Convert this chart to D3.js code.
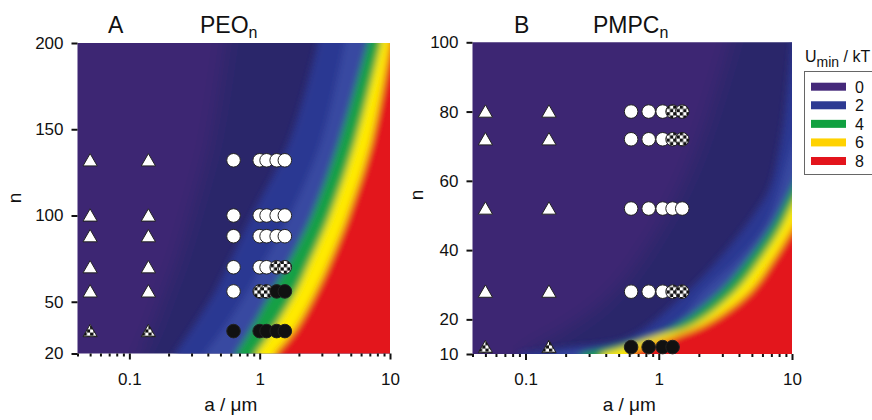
<!DOCTYPE html>
<html>
<head>
<meta charset="utf-8">
<script src="https://cdn.jsdelivr.net/npm/d3@7"></script>
<style>
  body { margin: 0; background: #fff; }
  text { font-family: "Liberation Sans", Arial, sans-serif; fill: #111; }
</style>
</head>
<body>
<div id="chart"></div>
<script>
// axes
var aTicks = [0.1, 1, 10];
var nTicksA = [20, 50, 100, 150, 200];
var nTicksB = [10, 20, 40, 60, 80, 100];

// legend
var legendLevels = [0, 2, 4, 6, 8];
var legendColors = ["#45297a", "#2d3a92", "#10a040", "#ffd200", "#e3141c"];

// U_min / kT contour levels and the colour that starts at each one
var bandLevels = [1, 2, 3, 4, 6, 8];
var bandColors = ["#2a286b", "#2c3992", "#3848a1", "#18a044", "#ffea00", "#e3141c"];
var baseColor = "#3e2873";

// panel A (PEO): boundary a-values of each level, at these n
var nBandA = [20, 33, 56, 71, 100, 144, 200];
var aBandA = [
  [0.121, 0.145, 0.188, 0.224, 0.292, 0.416, 0.542],
  [0.224, 0.293, 0.455, 0.57, 0.873, 1.71, 2.80],
  [0.38, 0.513, 0.81, 1.04, 1.71, 3.0, 4.51],
  [0.658, 0.842, 1.243, 1.62, 2.52, 4.13, 6.78],
  [0.937, 1.243, 1.90, 2.35, 3.46, 5.48, 8.53],
  [1.31, 1.83, 2.70, 3.34, 4.75, 7.26, 10.1]
];

// panel B (PMPC): boundary n and a values of each level
var nBandB = [
  [10, 20, 30, 52, 72, 100],
  [10, 12, 14.5, 26, 38, 50, 58, 70, 80, 100],
  [10, 11.5, 14, 20, 28, 38, 48, 70, 90],
  [10, 12, 17, 28, 38, 47, 58, 68],
  [10, 12, 15, 18, 28, 38, 46, 53, 62],
  [10, 12, 15, 19, 28, 38, 46, 55]
];
var aBandB = [
  [0.091, 0.256, 0.511, 1.21, 2.04, 3.42],
  [0.09, 0.22, 0.58, 1.44, 2.9, 5.1, 6.8, 8.1, 8.9, 10],
  [0.15, 0.36, 0.86, 1.44, 2.15, 4.07, 6.5, 10, 14.9],
  [0.26, 0.43, 1.17, 2.88, 4.84, 7.1, 10, 13.2],
  [0.37, 0.557, 0.936, 1.71, 3.73, 5.96, 8.13, 10, 13.2],
  [0.6, 0.788, 1.32, 2.34, 4.84, 7.45, 10, 13.65]
];

// experimental points: w = white, c = checkered, b = black
var aTriA = [0.05, 0.14];
var aCircA = [0.63, 1.0, 1.13, 1.35, 1.56];
var nRowsA = [132, 100, 88, 70, 56, 33];
var triTypesA = ["w", "w", "w", "w", "w", "c"];
var circTypesA = [
  ["w", "w", "w", "w", "w"],
  ["w", "w", "w", "w", "w"],
  ["w", "w", "w", "w", "w"],
  ["w", "w", "w", "c", "c"],
  ["w", "c", "c", "b", "b"],
  ["b", "b", "b", "b", "b"]
];

var aTriB = [0.05, 0.15];
var aCircB = [0.62, 0.84, 1.07, 1.27, 1.5];
var nRowsB = [80, 72, 52, 28, 12];
var triTypesB = ["w", "w", "w", "w", "c"];
var circTypesB = [
  ["w", "w", "w", "c", "c"],
  ["w", "w", "w", "c", "c"],
  ["w", "w", "w", "w", "w"],
  ["w", "w", "w", "c", "c"],
  ["b", "b", "b", "b", null]
];

var svg = d3.select("#chart").append("svg")
    .attr("width", 872)
    .attr("height", 420);

var defs = svg.append("defs");
var pat = defs.append("pattern")
    .attr("id", "checker")
    .attr("patternUnits", "userSpaceOnUse")
    .attr("width", 6.6).attr("height", 6.6);
pat.append("rect").attr("width", 6.6).attr("height", 6.6).attr("fill", "#fff");
pat.append("rect").attr("width", 3.3).attr("height", 3.3).attr("fill", "#111");
pat.append("rect").attr("x", 3.3).attr("y", 3.3).attr("width", 3.3).attr("height", 3.3).attr("fill", "#111");

function addBlur(id, sd) {
  defs.append("filter")
      .attr("id", id)
      .attr("filterUnits", "userSpaceOnUse")
      .attr("x", -60).attr("y", -60).attr("width", 1000).attr("height", 540)
    .append("feGaussianBlur")
      .attr("stdDeviation", sd);
}
addBlur("blurWide", 10);
addBlur("blur", 3.5);

var fillFor = { w: "#fff", c: "url(#checker)", b: "#111" };

function drawPanel(p) {
  var x = d3.scaleLog().domain([0.04, 10]).range([p.left, p.right]);
  var y = d3.scaleLinear().domain(p.nDomain).range([p.bottom, p.top]);

  // colour field
  defs.append("clipPath").attr("id", "clip" + p.id)
    .append("rect")
      .attr("x", p.left).attr("y", p.top)
      .attr("width", p.right - p.left).attr("height", p.bottom - p.top);

  var clip = svg.append("g").attr("clip-path", "url(#clip" + p.id + ")");
  var soft = clip.append("g").attr("filter", "url(#blurWide)");
  var sharp = clip.append("g").attr("filter", "url(#blur)");

  soft.append("rect")
      .attr("x", p.left - 40).attr("y", p.top - 40)
      .attr("width", p.right - p.left + 80).attr("height", p.bottom - p.top + 80)
      .attr("fill", baseColor);

  var line = d3.line().curve(d3.curveCatmullRom);
  bandLevels.forEach(function(level, i) {
    var ns = p.bandN(i), as = p.bandA[i];
    var pts = ns.map(function(n, j) { return [x(as[j]), y(n)]; });
    var first = pts[0], last = pts[pts.length - 1];
    var d = "M" + first[0] + "," + (p.bottom + 40) + "L" + line(pts).slice(1);
    if (ns[ns.length - 1] >= p.nDomain[1]) {
      d += "L" + last[0] + "," + (p.top - 40) + "L" + (p.right + 40) + "," + (p.top - 40);
    } else {
      d += "L" + (p.right + 40) + "," + last[1];
    }
    d += "L" + (p.right + 40) + "," + (p.bottom + 40) + "Z";
    (level < 2 ? soft : sharp).append("path").attr("d", d).attr("fill", bandColors[i]);
  });

  // axes
  var yAxis = svg.append("g")
      .attr("transform", "translate(" + p.left + ",0)")
      .call(d3.axisLeft(y).tickValues(p.nTicks).tickSize(6).tickPadding(8));
  var xAxis = svg.append("g")
      .attr("transform", "translate(0," + p.bottom + ")")
      .call(d3.axisBottom(x).tickValues(aTicks).tickFormat(d3.format("")).tickSize(6).tickPadding(13));
  var minor = x.ticks().filter(function(v) { return aTicks.indexOf(v) < 0; });
  var xMinor = svg.append("g")
      .attr("transform", "translate(0," + p.bottom + ")")
      .call(d3.axisBottom(x).tickValues(minor).tickFormat("").tickSize(3));
  [yAxis, xAxis, xMinor].forEach(function(g) {
    g.select(".domain").remove();
    g.selectAll(".tick line").attr("stroke", "#111").attr("stroke-width", 2);
    g.selectAll(".tick text").style("font-size", "17px").attr("fill", "#111");
  });

  svg.append("text")
      .attr("x", (p.left + p.right) / 2 - 3)
      .attr("y", 411)
      .attr("text-anchor", "middle")
      .style("font-size", "19px")
      .text("a / \u03bcm");
  svg.append("text")
      .attr("transform", "translate(" + p.nLabelX + "," + p.nLabelY + ") rotate(-90)")
      .attr("text-anchor", "middle")
      .style("font-size", "19px")
      .text("n");

  svg.append("text")
      .attr("x", p.letterX).attr("y", 33)
      .style("font-size", "23px")
      .text(p.letter);
  var t = svg.append("text")
      .attr("x", p.titleX).attr("y", 33)
      .style("font-size", "23px")
      .text(p.title);
  t.append("tspan").attr("dy", 5).style("font-size", "16px").text("n");

  // points
  var pts = svg.append("g");
  p.nRows.forEach(function(n, r) {
    p.aTri.forEach(function(a) {
      pts.append("path")
          .attr("d", d3.symbol(d3.symbolTriangle, 88)())
          .attr("transform", "translate(" + x(a) + "," + (y(n) + 1.5) + ")")
          .attr("fill", fillFor[p.triTypes[r]])
          .attr("stroke", "#222")
          .attr("stroke-width", 1);
    });
    p.aCirc.forEach(function(a, k) {
      var type = p.circTypes[r][k];
      if (!type) return;
      pts.append("circle")
          .attr("cx", x(a)).attr("cy", y(n))
          .attr("r", 6.8)
          .attr("fill", fillFor[type])
          .attr("stroke", "#222")
          .attr("stroke-width", 1);
    });
  });
}

drawPanel({
  id: "A", left: 77.5, right: 390, top: 43, bottom: 353.5,
  nDomain: [20, 200], nTicks: nTicksA,
  bandN: function() { return nBandA; }, bandA: aBandA,
  aTri: aTriA, aCirc: aCircA, nRows: nRowsA, triTypes: triTypesA, circTypes: circTypesA,
  letter: "A", letterX: 108, title: "PEO", titleX: 200, nLabelX: 21, nLabelY: 198
});

drawPanel({
  id: "B", left: 472.5, right: 792, top: 42.3, bottom: 354,
  nDomain: [10, 100], nTicks: nTicksB,
  bandN: function(i) { return nBandB[i]; }, bandA: aBandB,
  aTri: aTriB, aCirc: aCircB, nRows: nRowsB, triTypes: triTypesB, circTypes: circTypesB,
  letter: "B", letterX: 514, title: "PMPC", titleX: 593, nLabelX: 423, nLabelY: 195
});

// legend
var lt = svg.append("text").attr("x", 805).attr("y", 62).style("font-size", "16px").text("U");
lt.append("tspan").attr("dy", 5).style("font-size", "14px").text("min");
lt.append("tspan").attr("dy", -5).text(" / kT");

svg.append("rect")
    .attr("x", 804.5).attr("y", 71.5)
    .attr("width", 90).attr("height", 103)
    .attr("fill", "#fff")
    .attr("stroke", "#666")
    .attr("stroke-width", 1);

var legY = d3.scalePoint().domain(legendLevels).range([86.7, 161]);
legendLevels.forEach(function(v, i) {
  svg.append("rect")
      .attr("x", 811).attr("y", legY(v) - 4)
      .attr("width", 35).attr("height", 8)
      .attr("fill", legendColors[i]);
  svg.append("text")
      .attr("x", 855).attr("y", legY(v) + 6)
      .style("font-size", "16px")
      .text(v);
});
</script>
</body>
</html>
